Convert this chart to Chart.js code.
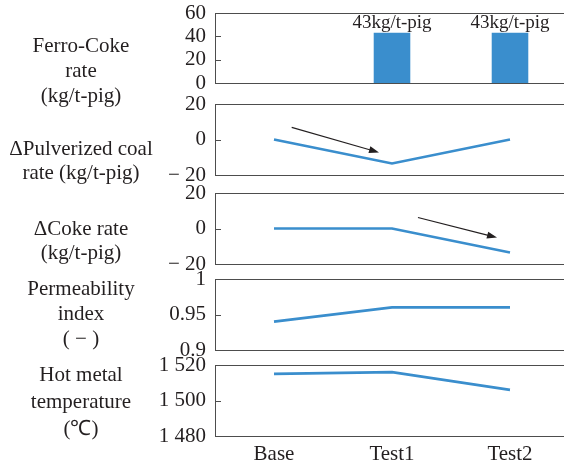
<!DOCTYPE html>
<html>
<head>
<meta charset="utf-8">
<script src="https://cdn.jsdelivr.net/npm/chart.js@4/dist/chart.umd.min.js"></script>
<style>
    body { margin: 0; width: 564px; height: 463px; overflow: hidden; background: #fff; position: relative; font-family: 'Liberation Serif', serif; }
    canvas { position: absolute; left: 0; }
    .lbl { position: absolute; left: 0; width: 162px; text-align: center; font-size: 21px; color: #231f20; white-space: nowrap; }
</style>
</head>
<body>
<script>
const categories = ['Base', 'Test1', 'Test2'];
const ferroCoke = [0, 43, 43];
const ferroCokeLabels = ['', '43kg/t-pig', '43kg/t-pig'];
const pulverizedCoal = [0, -13.5, 0];
const cokeRate = [0, 0, -13.5];
const permeability = [0.94, 0.96, 0.96];
const hotMetalTemp = [1515, 1516, 1506];

// y ranges: min, max, step
const ferroCokeRange = [0, 60, 20];
const deltaRange = [-20, 20, 20];
const permeabilityRange = [0.9, 1, 0.05];
const hotMetalRange = [1480, 1520, 20];

// arrows in data units: x0, y0, x1, y1
const pulverizedArrow = [0.15, 6.8, 0.89, -7.3];
const cokeArrow = [1.22, 6.2, 1.89, -5.1];

const titles = [
    ['Ferro-Coke', 'rate', '(kg/t-pig)'],
    ['\u0394Pulverized coal', 'rate (kg/t-pig)'],
    ['\u0394Coke rate', '(kg/t-pig)'],
    ['Permeability', 'index', '( \u2212 )'],
    ['Hot metal', 'temperature', '(\u2103)']
];

const blue = '#3a8ecd';
const ink = '#231f20';

Chart.defaults.font.family = "'Liberation Serif', serif";
Chart.defaults.font.size = 21;
Chart.defaults.color = ink;

const panelDecor = {
    id: 'panelDecor',
    afterDatasetsDraw(chart, args, opts) {
        const ctx = chart.ctx;
        const x = chart.scales.x, y = chart.scales.y;
        ctx.save();
        if (opts.barLabels) {
            ctx.font = "19px 'Liberation Serif', serif";
            ctx.fillStyle = ink;
            ctx.textAlign = 'center';
            ctx.textBaseline = 'middle';
            chart.getDatasetMeta(0).data.forEach((bar, i) => {
                if (opts.barLabels[i]) ctx.fillText(opts.barLabels[i], bar.x, bar.y - 10);
            });
        }
        if (opts.arrow) {
            const [a0, b0, a1, b1] = opts.arrow;
            const x0 = x.getPixelForValue(a0), y0 = y.getPixelForValue(b0);
            const x1 = x.getPixelForValue(a1), y1 = y.getPixelForValue(b1);
            const ang = Math.atan2(y1 - y0, x1 - x0);
            ctx.strokeStyle = ink;
            ctx.fillStyle = ink;
            ctx.lineWidth = 1.2;
            ctx.beginPath();
            ctx.moveTo(x0, y0);
            ctx.lineTo(x1 - 8 * Math.cos(ang), y1 - 8 * Math.sin(ang));
            ctx.stroke();
            ctx.beginPath();
            ctx.moveTo(x1, y1);
            ctx.lineTo(x1 - 10 * Math.cos(ang) + 3.5 * Math.sin(ang), y1 - 10 * Math.sin(ang) - 3.5 * Math.cos(ang));
            ctx.lineTo(x1 - 10 * Math.cos(ang) - 3.5 * Math.sin(ang), y1 - 10 * Math.sin(ang) + 3.5 * Math.cos(ang));
            ctx.closePath();
            ctx.fill();
        }
        ctx.restore();
    },
    afterDraw(chart) {
        const ctx = chart.ctx;
        const a = chart.chartArea;
        const y = chart.scales.y;
        ctx.save();
        ctx.strokeStyle = '#4d4d4d';
        ctx.lineWidth = 1;
        ctx.strokeRect(Math.round(a.left) + 0.5, Math.round(a.top) + 0.5, Math.round(a.right - a.left), Math.round(a.bottom - a.top));
        ctx.beginPath();
        y.ticks.forEach((t, i) => {
            const py = Math.round(y.getPixelForTick(i)) + 0.5;
            ctx.moveTo(a.left, py);
            ctx.lineTo(a.left + 6, py);
        });
        ctx.stroke();
        ctx.restore();
    }
};

function fmtDelta(v) { return v < 0 ? '\u2212 ' + Math.abs(v) : String(v); }
function fmtDec(v) { return String(Number(v.toFixed(2))); }
function fmtThousand(v) { return String(v).replace(/\B(?=(\d{3})+$)/, ' '); }

const panels = [
    { type: 'bar', data: ferroCoke, range: ferroCokeRange, fmt: String, top: 13, h: 70, barLabels: ferroCokeLabels },
    { type: 'line', data: pulverizedCoal, range: deltaRange, fmt: fmtDelta, top: 104, h: 71, arrow: pulverizedArrow },
    { type: 'line', data: cokeRate, range: deltaRange, fmt: fmtDelta, top: 193, h: 71, arrow: cokeArrow },
    { type: 'line', data: permeability, range: permeabilityRange, fmt: fmtDec, top: 279, h: 71 },
    { type: 'line', data: hotMetalTemp, range: hotMetalRange, fmt: fmtThousand, top: 365, h: 71, last: true }
];

const titleCenters = [45, 148, 228, 288, 374];
const titleLines = [25, 24, 24, 25, 27];

panels.forEach((p, k) => {
    const canvas = document.createElement('canvas');
    const axisH = p.last ? 27 : 0;
    const padBottom = p.last ? 0 : 12;
    canvas.width = 575;
    canvas.height = 12 + p.h + axisH + padBottom;
    canvas.style.top = (p.top - 12) + 'px';
    document.body.appendChild(canvas);

    const dataset = p.type === 'bar'
        ? { data: p.data, backgroundColor: blue, barPercentage: 0.31, categoryPercentage: 1 }
        : { data: p.data, borderColor: blue, borderWidth: 2.6, pointRadius: 0, tension: 0, fill: false };

    new Chart(canvas, {
        type: p.type,
        data: { labels: categories, datasets: [dataset] },
        options: {
            responsive: false,
            animation: false,
            layout: { padding: { top: 12, bottom: padBottom, left: 0, right: 6 } },
            plugins: {
                legend: { display: false },
                tooltip: { enabled: false },
                panelDecor: { barLabels: p.barLabels, arrow: p.arrow }
            },
            scales: {
                x: {
                    display: !!p.last,
                    offset: true,
                    grid: { display: false, drawTicks: false },
                    border: { display: false },
                    ticks: { padding: 6, autoSkip: false },
                    afterFit: s => { s.height = axisH; s.paddingLeft = 0; s.paddingRight = 0; }
                },
                y: {
                    min: p.range[0],
                    max: p.range[1],
                    grid: { display: false, drawTicks: false },
                    border: { display: false },
                    ticks: { stepSize: p.range[2], padding: 9, autoSkip: false, callback: v => p.fmt(v) },
                    afterFit: s => { s.width = 215; s.paddingTop = 0; s.paddingBottom = 0; }
                }
            }
        },
        plugins: [panelDecor]
    });

    const div = document.createElement('div');
    div.className = 'lbl';
    div.style.lineHeight = titleLines[k] + 'px';
    div.style.top = (titleCenters[k] - titleLines[k] / 2) + 'px';
    div.innerHTML = titles[k].join('<br>');
    document.body.appendChild(div);
});
</script>
</body>
</html>
